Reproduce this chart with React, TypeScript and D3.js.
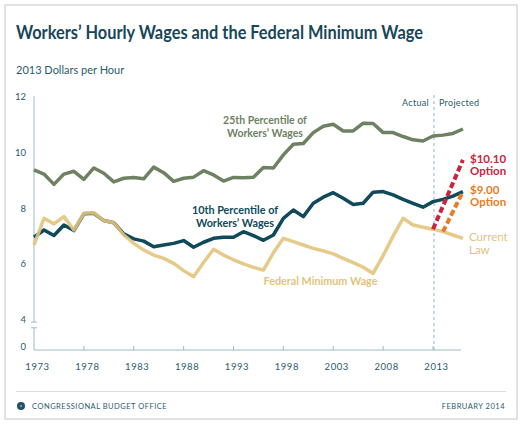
import React, { useEffect, useRef } from 'react';
import * as d3 from 'd3';

// Years shown on the chart (2014-2016 are projections)
const years = [
  1973, 1974, 1975, 1976, 1977, 1978, 1979, 1980, 1981, 1982, 1983,
  1984, 1985, 1986, 1987, 1988, 1989, 1990, 1991, 1992, 1993, 1994,
  1995, 1996, 1997, 1998, 1999, 2000, 2001, 2002, 2003, 2004, 2005,
  2006, 2007, 2008, 2009, 2010, 2011, 2012, 2013, 2014, 2015, 2016,
];

// 2013 dollars per hour
const p25Wages = [
  9.38, 9.23, 8.86, 9.23, 9.33, 9.04, 9.45, 9.26, 8.95, 9.08, 9.11,
  9.06, 9.48, 9.28, 8.97, 9.08, 9.12, 9.35, 9.2, 8.98, 9.11, 9.1,
  9.12, 9.47, 9.45, 9.92, 10.3, 10.33, 10.72, 10.95, 11.02, 10.78, 10.78,
  11.06, 11.05, 10.72, 10.72, 10.58, 10.46, 10.42, 10.6, 10.63, 10.69, 10.85,
];

const p10Wages = [
  6.96, 7.22, 7.02, 7.4, 7.2, 7.8, 7.82, 7.56, 7.48, 7.08, 6.9,
  6.82, 6.62, 6.68, 6.74, 6.84, 6.6, 6.78, 6.92, 6.96, 6.96, 7.16,
  7.02, 6.85, 7.04, 7.64, 7.94, 7.7, 8.18, 8.4, 8.56, 8.36, 8.14,
  8.18, 8.58, 8.6, 8.48, 8.32, 8.18, 8.04, 8.24, 8.32, 8.44, 8.6,
];

const minWage = [
  6.68, 7.64, 7.44, 7.7, 7.22, 7.82, 7.84, 7.56, 7.48, 7.04, 6.74,
  6.5, 6.32, 6.2, 6.02, 5.76, 5.54, 6.05, 6.53, 6.32, 6.15, 6.0,
  5.88, 5.78, 6.4, 6.92, 6.8, 6.68, 6.56, 6.47, 6.36, 6.2, 6.05,
  5.88, 5.66, 6.3, 7.0, 7.64, 7.4, 7.32, 7.25, 7.16, 7.04, 6.92,
];

const option1010Years = [2013, 2016];
const option1010 = [7.25, 9.74];
const option900Years = [2014, 2016];
const option900 = [7.16, 8.6];

const xTickYears = [1973, 1978, 1983, 1988, 1993, 1998, 2003, 2008, 2013];
const yTicks = [12, 10, 8, 6, 4];
const projectionStart = 2013;

const W = 525;
const H = 427;

export default function App() {
  const svgRef = useRef<SVGSVGElement>(null);

  useEffect(() => {
    if (!svgRef.current) return;
    const svg = d3.select(svgRef.current);
    svg.selectAll('*').remove();

    const font = "Lato, 'Open Sans', sans-serif";
    const navy = '#17475a';
    const textTeal = '#2a5b6c';
    const axisColor = '#9dbbc8';
    const green = '#6e8263';
    const teal = '#0f4a5a';
    const gold = '#e2c47d';
    const red = '#c9243d';
    const orange = '#e87c24';

    // frame
    svg.append('rect')
      .attr('x', 5).attr('y', 5)
      .attr('width', 512).attr('height', 414)
      .attr('fill', '#fff')
      .attr('stroke', '#e2e2e2')
      .attr('stroke-width', 2);

    // title + subtitle
    svg.append('text')
      .attr('x', 16).attr('y', 39)
      .attr('textLength', 407)
      .attr('lengthAdjust', 'spacingAndGlyphs')
      .style('font-family', font)
      .style('font-size', '19px')
      .style('font-weight', 700)
      .style('fill', navy)
      .text('Workers\u2019 Hourly Wages and the Federal Minimum Wage');

    svg.append('text')
      .attr('x', 16).attr('y', 73.5)
      .style('font-family', font)
      .style('font-size', '11px')
      .style('fill', textTeal)
      .text('2013 Dollars per Hour');

    // scales
    const x = d3.scaleLinear().domain([1973, 2013]).range([34, 433]);
    const y = d3.scaleLinear().domain([4, 12]).range([319.6, 97]);
    const baseY = 350;
    const axisX = x(1973);

    // y axis with break
    const breakTop = y(4) + 2.5;
    const breakBottom = breakTop + 5.7;
    svg.append('line')
      .attr('x1', axisX).attr('x2', axisX)
      .attr('y1', y(12) - 1).attr('y2', breakTop)
      .attr('stroke', axisColor).attr('stroke-width', 1);
    svg.append('line')
      .attr('x1', axisX).attr('x2', axisX)
      .attr('y1', breakBottom).attr('y2', baseY)
      .attr('stroke', axisColor).attr('stroke-width', 1);
    [breakTop, breakBottom].forEach(by => {
      svg.append('line')
        .attr('x1', axisX - 3).attr('x2', axisX + 3)
        .attr('y1', by).attr('y2', by)
        .attr('stroke', axisColor).attr('stroke-width', 1);
    });

    svg.selectAll('.ytick')
      .data(yTicks)
      .enter()
      .append('text')
      .attr('class', 'ytick')
      .attr('x', 26)
      .attr('y', d => y(d))
      .attr('dy', '0.35em')
      .attr('text-anchor', 'end')
      .style('font-family', font)
      .style('font-size', '9.5px')
      .style('fill', textTeal)
      .text(d => d);

    svg.append('text')
      .attr('x', 26).attr('y', baseY - 3)
      .attr('dy', '0.35em')
      .attr('text-anchor', 'end')
      .style('font-family', font)
      .style('font-size', '9.5px')
      .style('fill', textTeal)
      .text('0');

    // x axis
    svg.append('line')
      .attr('x1', axisX).attr('x2', x(2016) - 2)
      .attr('y1', baseY).attr('y2', baseY)
      .attr('stroke', axisColor).attr('stroke-width', 1);

    svg.selectAll('.xtick')
      .data(xTickYears.slice(1))
      .enter()
      .append('line')
      .attr('class', 'xtick')
      .attr('x1', d => x(d)).attr('x2', d => x(d))
      .attr('y1', baseY).attr('y2', baseY - 4)
      .attr('stroke', axisColor).attr('stroke-width', 1);

    svg.selectAll('.xlabel')
      .data(xTickYears)
      .enter()
      .append('text')
      .attr('class', 'xlabel')
      .attr('x', d => x(d) + 3.5)
      .attr('y', 370)
      .attr('text-anchor', 'middle')
      .style('font-family', font)
      .style('font-size', '9.5px')
      .style('letter-spacing', '0.6px')
      .style('fill', textTeal)
      .text(d => d);

    // actual / projected divider
    const px = x(projectionStart) + 1;
    svg.append('line')
      .attr('x1', px).attr('x2', px)
      .attr('y1', 95).attr('y2', baseY)
      .attr('stroke', '#8fb5c6')
      .attr('stroke-width', 1)
      .attr('stroke-dasharray', '3,3');

    svg.append('text')
      .attr('x', px - 5).attr('y', 106)
      .attr('text-anchor', 'end')
      .style('font-family', font)
      .style('font-size', '9px')
      .style('letter-spacing', '0.3px')
      .style('fill', textTeal)
      .text('Actual');
    svg.append('text')
      .attr('x', px + 5).attr('y', 106)
      .style('font-family', font)
      .style('font-size', '9px')
      .style('letter-spacing', '0.3px')
      .style('fill', textTeal)
      .text('Projected');

    // series lines
    const line = d3.line<number>()
      .x((_, i) => x(years[i]))
      .y(d => y(d));

    const drawSeries = (vals: number[], color: string, opacity = 1) => {
      svg.append('path')
        .datum(vals)
        .attr('d', line)
        .attr('fill', 'none')
        .attr('stroke', color)
        .attr('stroke-width', 3.5)
        .attr('stroke-linejoin', 'round')
        .attr('stroke-opacity', opacity);
    };

    drawSeries(p25Wages, green);
    drawSeries(p10Wages, teal);
    drawSeries(minWage, gold, 0.9);

    // options (dashed)
    const drawOption = (ys: number[], vals: number[], color: string) => {
      svg.append('path')
        .datum(vals)
        .attr('d', d3.line<number>().x((_, i) => x(ys[i])).y(d => y(d)))
        .attr('fill', 'none')
        .attr('stroke', color)
        .attr('stroke-width', 4)
        .attr('stroke-dasharray', '6,3');
    };
    drawOption(option1010Years, option1010, red);
    drawOption(option900Years, option900, orange);

    // labels
    const label = (
      lines: string[], lx: number, ly: number, color: string,
      anchor = 'start', weight = 700, size = 10.5, gap = 13
    ) => {
      lines.forEach((t, i) => {
        svg.append('text')
          .attr('x', lx)
          .attr('y', ly + i * gap)
          .attr('text-anchor', anchor)
          .style('font-family', font)
          .style('font-size', `${size}px`)
          .style('font-weight', weight)
          .style('fill', color)
          .text(t);
      });
    };

    label(['25th Percentile of', 'Workers\u2019 Wages'], 265, 123.5, green, 'middle', 700, 10.5, 13);
    label(['10th Percentile of', 'Workers\u2019 Wages'], 235, 213.5, teal, 'middle', 700, 10.8, 13);
    label(['Federal Minimum Wage'], 320.5, 285, gold, 'middle', 700, 10.8);
    label(['$10.10', 'Option'], 470, 162.5, red, 'start', 700, 11.5, 12);
    label(['$9.00', 'Option'], 470, 193.5, orange, 'start', 700, 11.5, 12.5);
    label(['Current', 'Law'], 469, 240.5, gold, 'start', 400, 11.5, 13);

    // footer
    svg.append('line')
      .attr('x1', 16).attr('x2', 506)
      .attr('y1', 391.5).attr('y2', 391.5)
      .attr('stroke', '#dddddd').attr('stroke-width', 1);

    svg.append('circle')
      .attr('cx', 21).attr('cy', 406)
      .attr('r', 4)
      .attr('fill', '#1f5063');
    svg.append('circle')
      .attr('cx', 21).attr('cy', 406)
      .attr('r', 1.3)
      .attr('fill', '#6d93a3');

    svg.append('text')
      .attr('x', 32).attr('y', 409)
      .style('font-family', font)
      .style('font-size', '7.5px')
      .style('letter-spacing', '0.5px')
      .style('fill', textTeal)
      .text('CONGRESSIONAL BUDGET OFFICE');

    svg.append('text')
      .attr('x', 505).attr('y', 409)
      .attr('text-anchor', 'end')
      .style('font-family', font)
      .style('font-size', '7.5px')
      .style('letter-spacing', '0.5px')
      .style('fill', textTeal)
      .text('FEBRUARY 2014');
  }, []);

  return (
    <svg
      ref={svgRef}
      width={W}
      height={H}
      style={{ position: 'absolute', left: 0, top: 0, background: '#fff' }}
    />
  );
}
